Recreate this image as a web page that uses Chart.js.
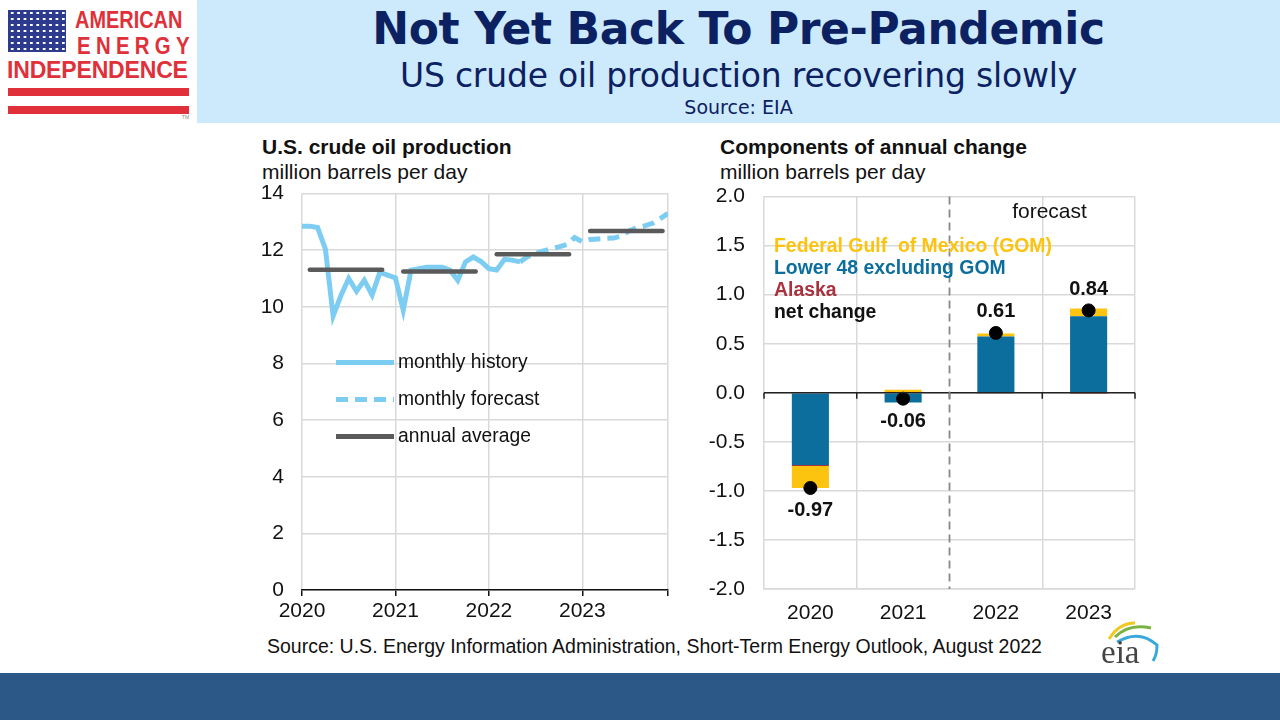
<!DOCTYPE html>
<html>
<head>
<meta charset="utf-8">
<script src="https://cdn.jsdelivr.net/npm/chart.js@4.4.0/dist/chart.umd.min.js"></script>
<style>
  html, body { margin: 0; padding: 0; }
  body { width: 1280px; height: 720px; position: relative; overflow: hidden; background: #fff; font-family: "Liberation Sans", Arial, sans-serif; }
  .abs { position: absolute; white-space: nowrap; }
  #banner { left: 197px; top: 0; width: 1083px; height: 123px; background: #cdeafc; }
  #titulo { left: 197px; width: 1083px; top: 3px; text-align: center; font-family: "DejaVu Sans", Verdana, sans-serif; font-weight: bold; font-size: 44px; color: #0c2161; letter-spacing: -0.4px; }
  #subtitulo { left: 197px; width: 1083px; top: 56px; text-align: center; font-family: "DejaVu Sans", Verdana, sans-serif; font-size: 33px; color: #0c2161; letter-spacing: -0.2px; }
  #fonte { left: 197px; width: 1083px; top: 96px; text-align: center; font-family: "DejaVu Sans", Verdana, sans-serif; font-size: 19px; color: #0c2161; }
  #bandeira { left: 8px; top: 10px; width: 58px; height: 42px; background-color: #2d3b8e;
    background-image: radial-gradient(circle, #fff 1.1px, transparent 1.4px); background-size: 6.4px 6px; background-position: 1px 0; }
  .logo { color: #e0303a; font-weight: bold; font-family: "Liberation Sans", Arial, sans-serif; transform-origin: left top; }
  .faixa { left: 8px; width: 181px; height: 8px; background: #e0303a; }
  #rodape { left: 0; top: 673px; width: 1280px; height: 47px; background: #2b5886; }
  .tituloGrafico { font-weight: bold; font-size: 21px; color: #111; }
  .unidade { font-size: 21px; color: #111; }
  canvas { position: absolute; }
</style>
</head>
<body>

<div id="banner" class="abs"></div>
<div id="titulo" class="abs">Not Yet Back To Pre-Pandemic</div>
<div id="subtitulo" class="abs">US crude oil production recovering slowly</div>
<div id="fonte" class="abs">Source: EIA</div>

<!-- logo -->
<div id="bandeira" class="abs"></div>
<div class="abs logo" style="left:75px; top:6px; font-size:24px; letter-spacing:0px; transform:scaleX(0.83);">AMERICAN</div>
<div class="abs logo" style="left:77px; top:32px; font-size:24px; letter-spacing:6.2px; transform:scaleX(0.85);">ENERGY</div>
<div class="abs logo" style="left:7px; top:56px; font-size:24px; letter-spacing:-0.2px; transform:scaleX(0.96);">INDEPENDENCE</div>
<div class="abs faixa" style="top:88px;"></div>
<div class="abs faixa" style="top:106px;"></div>
<div class="abs" style="left:182px; top:114px; font-size:5px; color:#888;">TM</div>

<div class="abs tituloGrafico" style="left:262px; top:135px;">U.S. crude oil production</div>
<div class="abs unidade" style="left:262px; top:160px;">million barrels per day</div>
<div class="abs tituloGrafico" style="left:720px; top:135px;">Components of annual change</div>
<div class="abs unidade" style="left:720px; top:160px;">million barrels per day</div>

<canvas id="GraficoProducao" style="left:250px; top:163px; width:430px; height:467px;" width="430" height="467"></canvas>
<canvas id="GraficoComponentes" style="left:700px; top:165px; width:450px; height:465px;" width="450" height="465"></canvas>

<div class="abs" style="left:267px; top:635px; font-size:19.5px; color:#111;">Source: U.S. Energy Information Administration, Short-Term Energy Outlook, August 2022</div>

<!-- eia logo -->
<svg class="abs" style="left:1095px; top:615px;" width="70" height="55" viewBox="0 0 70 55">
  <path d="M14 24 Q24 8 40 8" stroke="#f2c81e" stroke-width="3" fill="none"/>
  <path d="M20 22 Q34 8 56 13" stroke="#7bb342" stroke-width="3" fill="none"/>
  <path d="M22 27 Q44 14 62 30 Q62 40 58 46" stroke="#3aa8dc" stroke-width="3" fill="none"/>
  <text x="6" y="48" font-family="Liberation Serif, DejaVu Serif, serif" font-size="33" fill="#444">eia</text>
</svg>

<div id="rodape" class="abs"></div>

<script>
/* Dados - produção mensal (milhões de barris por dia), jan/2020 em diante */
var anos = ['2020', '2021', '2022', '2023'];
var historicoMensal = [
    12.85, 12.85, 12.80, 12.05, 9.68, 10.40, 11.00, 10.55, 10.94, 10.42, 11.22, 11.12,
    11.02, 9.88, 11.30, 11.35, 11.40, 11.40, 11.40, 11.30, 10.94, 11.59, 11.76, 11.60,
    11.35, 11.30, 11.68, 11.65, 11.59
];
var previsaoMensal = [
    11.59, 11.78, 11.88, 11.98, 12.05, 12.12, 12.20, 12.45,
    12.30, 12.38, 12.40, 12.42, 12.43, 12.50, 12.68, 12.80, 12.86, 12.95, 13.12, 13.30
];
var inicioPrevisao = 28;   // posição (mês) em que a previsão começa
var mediaAnual = [11.31, 11.25, 11.86, 12.68];

/* Dados - componentes da variação anual */
var lower48 = [-0.735, -0.10, 0.575, 0.78];
var alaska = [-0.012, 0.0, -0.005, -0.012];
var golfoMexico = [-0.223, 0.03, 0.03, 0.08];
var variacaoLiquida = [-0.97, -0.06, 0.61, 0.84];
var ticksProducao = [0, 12, 24, 36, 47];

var FONTE = '"Liberation Sans", Arial, sans-serif';
var AZUL_CLARO = '#7dcdf3';
var CINZA_MEDIA = '#5a5a5a';
var GRADE = '#d9d9d9';

Chart.defaults.font.family = FONTE;
Chart.defaults.color = '#111';
Chart.defaults.animation = false;

/* Funções Gerais */
function PegarPontos(valores, inicio) {
    var pontos = [];
    for (var i = 0; i < valores.length; i++) {
        pontos.push({ x: inicio + i, y: valores[i] });
    }
    return pontos;
}

function PegarMediasAnuais(medias) {
    var datasets = [];
    for (var i = 0; i < medias.length; i++) {
        datasets.push({
            data: [{ x: i * 12 + 1, y: medias[i] }, { x: i * 12 + 10.3, y: medias[i] }],
            borderColor: CINZA_MEDIA,
            borderWidth: 4.5,
            borderCapStyle: 'round',
            pointRadius: 0,
            order: 1
        });
    }
    return datasets;
}

/* Legenda do gráfico da esquerda */
var legendaProducao = {
    id: 'legendaProducao',
    afterDraw: function (chart) {
        var ctx = chart.ctx, a = chart.chartArea;
        var itens = [
            { texto: 'monthly history', cor: AZUL_CLARO, tracejado: [], dy: 169 },
            { texto: 'monthly forecast', cor: AZUL_CLARO, tracejado: [12, 7], dy: 206 },
            { texto: 'annual average', cor: CINZA_MEDIA, tracejado: [], dy: 243 }
        ];
        ctx.save();
        itens.forEach(function (item) {
            var y = a.top + item.dy;
            ctx.beginPath();
            ctx.setLineDash(item.tracejado);
            ctx.lineWidth = 5;
            ctx.strokeStyle = item.cor;
            ctx.moveTo(a.left + 34, y);
            ctx.lineTo(a.left + 92, y);
            ctx.stroke();
            ctx.setLineDash([]);
            ctx.fillStyle = '#111';
            ctx.font = '19.3px ' + FONTE;
            ctx.textBaseline = 'middle';
            ctx.fillText(item.texto, a.left + 96, y);
        });
        ctx.restore();
    }
};

/* Construção do gráfico de produção */
var datasetsProducao = [{
    data: PegarPontos(historicoMensal, 0),
    borderColor: AZUL_CLARO,
    borderWidth: 5,
    pointRadius: 0,
    order: 2
}, {
    data: PegarPontos(previsaoMensal, inicioPrevisao),
    borderColor: AZUL_CLARO,
    borderWidth: 5,
    borderDash: [12, 7],
    pointRadius: 0,
    order: 2
}].concat(PegarMediasAnuais(mediaAnual));

new Chart(document.getElementById('GraficoProducao'), {
    type: 'line',
    data: { datasets: datasetsProducao },
    options: {
        responsive: false,
        layout: { padding: { top: 13, right: 12, left: 0, bottom: 0 } },
        plugins: { legend: { display: false }, tooltip: { enabled: false } },
        scales: {
            x: {
                type: 'linear', min: 0, max: 47,
                afterBuildTicks: function (eixo) {
                    eixo.ticks = ticksProducao.map(function (v) { return { value: v }; });
                },
                afterFit: function (eixo) { eixo.height = 40; },
                grid: { color: GRADE, lineWidth: 1.5, tickColor: '#111', tickLength: 6 },
                border: { color: '#111', width: 1.5 },
                ticks: {
                    font: { size: 21 }, padding: 3, maxRotation: 0, autoSkip: false,
                    callback: function (v) { return v % 12 === 0 ? String(2020 + v / 12) : ''; }
                }
            },
            y: {
                min: 0, max: 14,
                afterFit: function (eixo) { eixo.width = 52; },
                grid: { color: GRADE, lineWidth: 1.5, drawTicks: false },
                border: { display: false },
                ticks: { stepSize: 2, font: { size: 21 }, padding: 18 }
            }
        }
    },
    plugins: [legendaProducao]
});

/* Plugin - linha do zero, linha tracejada e textos do gráfico da direita */
var extrasComponentes = {
    id: 'extrasComponentes',
    afterDatasetsDraw: function (chart) {
        var ctx = chart.ctx, a = chart.chartArea;
        var x = chart.scales.x, y = chart.scales.y;
        var y0 = y.getPixelForValue(0);
        var passo = x.getPixelForValue(1) - x.getPixelForValue(0);
        ctx.save();

        // linha do zero
        ctx.beginPath();
        ctx.strokeStyle = '#222';
        ctx.lineWidth = 1.5;
        ctx.moveTo(a.left, y0);
        ctx.lineTo(a.right, y0);
        for (var i = 0; i <= anos.length; i++) {
            var xb = x.getPixelForValue(0) - passo / 2 + i * passo;
            ctx.moveTo(xb, y0);
            ctx.lineTo(xb, y0 + 6);
        }
        ctx.stroke();

        // divisão histórico / previsão
        var xd = (x.getPixelForValue(1) + x.getPixelForValue(2)) / 2;
        ctx.beginPath();
        ctx.setLineDash([8, 5]);
        ctx.strokeStyle = '#888';
        ctx.lineWidth = 1.8;
        ctx.moveTo(xd, a.top);
        ctx.lineTo(xd, a.bottom);
        ctx.stroke();
        ctx.setLineDash([]);

        ctx.fillStyle = '#111';
        ctx.font = '21px ' + FONTE;
        ctx.textAlign = 'center';
        ctx.textBaseline = 'middle';
        ctx.fillText('forecast', xd + 100, a.top + 16);

        // rótulos da variação líquida
        ctx.font = 'bold 20px ' + FONTE;
        for (var j = 0; j < variacaoLiquida.length; j++) {
            var v = variacaoLiquida[j];
            var yp = y.getPixelForValue(v) + (v < 0 ? 23 : -21);
            ctx.fillText(v.toFixed(2), x.getPixelForValue(j), yp);
        }

        // legenda
        var itens = [
            { texto: 'Federal Gulf  of Mexico (GOM)', cor: '#fcc30f' },
            { texto: 'Lower 48 excluding GOM', cor: '#0b6e9c' },
            { texto: 'Alaska', cor: '#a8323e' },
            { texto: 'net change', cor: '#111' }
        ];
        ctx.textAlign = 'left';
        ctx.font = 'bold 19.4px ' + FONTE;
        itens.forEach(function (item, k) {
            ctx.fillStyle = item.cor;
            ctx.fillText(item.texto, a.left + 10, a.top + 50 + k * 22);
        });
        ctx.restore();
    }
};

/* Construção do gráfico de componentes */
new Chart(document.getElementById('GraficoComponentes'), {
    type: 'bar',
    data: {
        labels: anos,
        datasets: [{
            label: 'Lower 48 excluding GOM',
            data: lower48,
            backgroundColor: '#0b6e9c',
            stack: 'componentes',
            order: 1
        }, {
            label: 'Alaska',
            data: alaska,
            backgroundColor: '#a8323e',
            stack: 'componentes',
            order: 1
        }, {
            label: 'Federal Gulf of Mexico (GOM)',
            data: golfoMexico,
            backgroundColor: '#fcc30f',
            stack: 'componentes',
            order: 1
        }, {
            type: 'line',
            label: 'net change',
            data: variacaoLiquida,
            stack: 'liquida',
            showLine: false,
            pointStyle: 'circle',
            pointRadius: 6.5,
            pointBackgroundColor: '#000',
            pointBorderColor: '#000',
            order: 0
        }]
    },
    options: {
        responsive: false,
        layout: { padding: { top: 16, right: 15, left: 0, bottom: 0 } },
        datasets: { bar: { categoryPercentage: 1, barPercentage: 0.4 } },
        plugins: { legend: { display: false }, tooltip: { enabled: false } },
        scales: {
            x: {
                stacked: true,
                afterFit: function (eixo) { eixo.height = 41; },
                grid: {
                    offset: true, drawTicks: false, lineWidth: 1.5,
                    color: function (c) { return c.index === 2 ? 'rgba(0,0,0,0)' : GRADE; }
                },
                border: { color: GRADE, width: 1.5 },
                ticks: { font: { size: 21 }, padding: 12 }
            },
            y: {
                stacked: true, min: -2, max: 2,
                afterFit: function (eixo) { eixo.width = 64; },
                grid: { color: GRADE, lineWidth: 1.5, drawTicks: false },
                border: { display: false },
                ticks: {
                    stepSize: 0.5, font: { size: 21 }, padding: 19,
                    callback: function (v) { return v.toFixed(1); }
                }
            }
        }
    },
    plugins: [extrasComponentes]
});
</script>
</body>
</html>
